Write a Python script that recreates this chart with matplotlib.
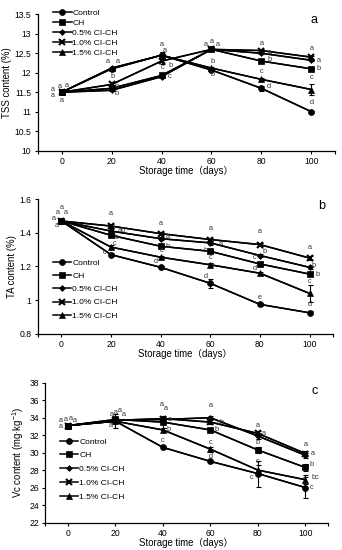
import numpy as np
import matplotlib
matplotlib.use("Agg")
import matplotlib.pyplot as plt

plt.rcParams['font.family'] = ['Liberation Sans', 'Noto Sans CJK SC']
plt.rcParams['mathtext.fontset'] = 'custom'
plt.rcParams['mathtext.rm'] = 'Liberation Sans'

days = [0, 20, 40, 60, 80, 100]
names = ["Control", "CH", "0.5% CI-CH", "1.0% CI-CH", "1.5% CI-CH"]

# TSS content (%)
tss_control = [11.5, 12.10, 12.45, 12.07, 11.60, 11.00]
tss_ch = [11.5, 11.60, 11.93, 12.60, 12.30, 12.10]
tss_05 = [11.5, 11.55, 11.90, 12.60, 12.50, 12.32]
tss_10 = [11.5, 11.70, 12.30, 12.60, 12.57, 12.40]
tss_15 = [11.5, 12.12, 12.45, 12.12, 11.83, 11.57]
tss_err_control = [0, 0.02, 0.03, 0.02, 0.07, 0.02]
tss_err_ch = [0, 0.02, 0.03, 0.03, 0.04, 0.02]
tss_err_05 = [0, 0.03, 0.03, 0.02, 0.03, 0.02]
tss_err_10 = [0, 0.05, 0.08, 0.02, 0.05, 0.04]
tss_err_15 = [0, 0.02, 0.08, 0.02, 0.04, 0.15]

# TA content (%)
ta_control = [1.47, 1.270, 1.195, 1.100, 0.975, 0.925]
ta_ch = [1.47, 1.385, 1.320, 1.290, 1.215, 1.155]
ta_05 = [1.47, 1.410, 1.365, 1.340, 1.265, 1.195]
ta_10 = [1.47, 1.440, 1.395, 1.360, 1.330, 1.250]
ta_15 = [1.47, 1.315, 1.255, 1.210, 1.160, 1.040]
ta_err_control = [0.01, 0.01, 0.01, 0.025, 0.008, 0.008]
ta_err_ch = [0.01, 0.01, 0.01, 0.01, 0.01, 0.01]
ta_err_05 = [0.01, 0.01, 0.01, 0.01, 0.01, 0.01]
ta_err_10 = [0.01, 0.01, 0.01, 0.01, 0.008, 0.01]
ta_err_15 = [0.01, 0.01, 0.01, 0.01, 0.01, 0.05]

# Vc content (mg/kg)
vc_control = [33.1, 33.6, 30.6, 29.0, 27.6, 26.0]
vc_ch = [33.1, 33.8, 33.5, 32.6, 30.3, 28.3]
vc_05 = [33.1, 33.7, 33.8, 34.0, 31.9, 29.7]
vc_10 = [33.1, 33.7, 33.9, 33.5, 32.2, 29.9]
vc_15 = [33.1, 33.6, 32.6, 30.4, 28.0, 26.9]
vc_err_control = [0.1, 0.8, 0.2, 0.2, 1.5, 1.2]
vc_err_ch = [0.1, 0.2, 0.7, 0.2, 0.3, 0.4]
vc_err_05 = [0.1, 0.2, 0.2, 0.2, 0.3, 0.3]
vc_err_10 = [0.1, 0.2, 0.2, 0.2, 0.3, 0.3]
vc_err_15 = [0.1, 0.2, 0.2, 0.3, 0.6, 0.5]

# significance letters: (series, day index, letter, dx px, dy px)
tss_letters = [
    (0, 0, "a", -9, 3), (1, 0, "a", -9, -3), (2, 0, "a", -2, 6), (3, 0, "a", 5, 7), (4, 0, "a", 0, -8),
    (0, 1, "a", -4, 7), (4, 1, "a", 6, 7), (3, 1, "b", 1, 8), (2, 1, "b", 5, -3), (1, 1, "b", 5, 2),
    (0, 2, "a", 0, 11), (4, 2, "a", 3, 5), (3, 2, "b", 9, -4), (1, 2, "c", 8, -1), (2, 2, "c", 1, 9),
    (1, 3, "a", -6, 5), (2, 3, "a", 0, 8), (3, 3, "a", 6, 5), (4, 3, "b", 1, 7), (0, 3, "b", 1, -4),
    (3, 4, "a", 0, 7), (2, 4, "a", 8, 1), (1, 4, "b", 8, 2), (4, 4, "c", 0, 8), (0, 4, "d", 7, 2),
    (3, 5, "a", 0, 9), (2, 5, "a", 7, 0), (1, 5, "b", 7, 0), (4, 5, "c", 0, 12), (0, 5, "d", 0, 9),
]
ta_letters = [
    (0, 0, "a", 0, 13), (1, 0, "a", -4, 8), (2, 0, "a", 4, 8), (3, 0, "a", -8, 2), (4, 0, "a", -5, -5),
    (3, 1, "a", 0, 13), (2, 1, "ab", 11, 1), (1, 1, "b", 6, -2), (4, 1, "c", 4, 4), (0, 1, "c", -6, 2),
    (3, 2, "a", 0, 10), (2, 2, "a", 7, 2), (1, 2, "b", 7, 0), (4, 2, "c", 1, 7), (0, 2, "d", -5, 6),
    (3, 3, "a", 0, 11), (2, 3, "a", 10, -1), (1, 3, "b", -5, 1), (4, 3, "c", 0, 7), (0, 3, "d", -5, 7),
    (3, 4, "a", 0, 13), (2, 4, "b", 5, 4), (1, 4, "c", -5, 6), (4, 4, "d", -5, 5), (0, 4, "e", 0, 7),
    (3, 5, "a", 0, 11), (2, 5, "b", 4, 2), (1, 5, "b", 8, 0), (4, 5, "c", 0, 12), (0, 5, "d", 0, 8),
]
vc_letters = [
    (0, 0, "a", -7, 5), (1, 0, "a", -2, 6), (2, 0, "a", 3, 7), (3, 0, "a", 7, 5), (4, 0, "a", -7, -1),
    (0, 1, "a", -5, -4), (1, 1, "a", -4, 5), (2, 1, "a", 0, 8), (3, 1, "a", 4, 10), (4, 1, "a", 8, 7),
    (3, 2, "a", -1, 14), (2, 2, "a", 3, 11), (1, 2, "a", 7, 3), (4, 2, "b", 6, 0), (0, 2, "c", 0, 7),
    (2, 3, "a", 0, 12), (3, 3, "ab", 10, 0), (1, 3, "b", 6, 0), (4, 3, "c", 0, 7), (0, 3, "d", 0, 5),
    (3, 4, "a", 0, 8), (2, 4, "a", 6, 3), (1, 4, "b", 0, 8), (4, 4, "c", 0, 9), (0, 4, "c", -6, -4),
    (3, 5, "a", 0, 9), (2, 5, "a", 7, 2), (1, 5, "b", 6, 3), (4, 5, "bc", 10, 2), (0, 5, "c", 6, 0),
]

markers = ["o", "s", "D", "x", "^"]
msizes = [4.3, 4.3, 3.0, 4.5, 4.6]


def draw_panel(ax, series, errs, letters, ylim, yticks, yticklabels, ylabel, tag, tagpos):
    handles = []
    for i, (vals, err) in enumerate(zip(series, errs)):
        ax.errorbar(days, vals, yerr=err, color="black", lw=1.1, elinewidth=0.8,
                    capsize=1.8, capthick=0.8, zorder=3)
        h, = ax.plot(days, vals, color="black", lw=1.1, marker=markers[i],
                     ms=msizes[i], mew=1.5 if markers[i] == "x" else 0.5,
                     mfc="black", mec="black", label=names[i], zorder=4)
        handles.append(h)
    for s, d, txt, dx, dy in letters:
        ax.annotate(txt, (days[d], series[s][d]), xytext=(dx, dy),
                    textcoords="offset pixels", ha="center", va="center",
                    fontsize=5.3, color="#333333", zorder=5)
    ax.set_xlim(-9.6, 109.5)
    ax.set_ylim(*ylim)
    ax.set_xticks(days)
    ax.set_xticks([-9.6, 109.5], minor=True)
    ax.set_yticks(yticks)
    ax.set_yticklabels(yticklabels)
    ax.tick_params(axis="both", which="both", direction="out", length=2.5,
                   width=0.8, labelsize=6.2, pad=2)
    ax.tick_params(axis="x", which="minor", length=2.5)
    for sp in ["top", "right"]:
        ax.spines[sp].set_visible(False)
    for sp in ["left", "bottom"]:
        ax.spines[sp].set_linewidth(0.9)
    ax.set_xlabel("Storage time（days）", fontsize=6.9, labelpad=0)
    ax.set_ylabel(ylabel, fontsize=6.9, labelpad=2)
    ax.text(tagpos[0], tagpos[1], tag, transform=ax.transAxes, fontsize=9,
            ha="center", va="center")
    return handles


fig = plt.figure(figsize=(3.42, 5.5), dpi=100)

ax_a = fig.add_axes([0.110, 0.726, 0.870, 0.248])
h = draw_panel(ax_a, [tss_control, tss_ch, tss_05, tss_10, tss_15],
               [tss_err_control, tss_err_ch, tss_err_05, tss_err_10, tss_err_15],
               tss_letters, (10, 13.5), [10, 10.5, 11, 11.5, 12, 12.5, 13, 13.5],
               ["10", "10.5", "11", "11.5", "12", "12.5", "13", "13.5"],
               "TSS content (%)", "a", (0.93, 0.96))
ax_a.legend(handles=h, loc="upper left", bbox_to_anchor=(0.04, 1.06), frameon=False,
            fontsize=6.1, handlelength=2.2, handletextpad=0.1, labelspacing=0.22,
            borderaxespad=0)

ax_b = fig.add_axes([0.110, 0.393, 0.864, 0.245])
h = draw_panel(ax_b, [ta_control, ta_ch, ta_05, ta_10, ta_15],
               [ta_err_control, ta_err_ch, ta_err_05, ta_err_10, ta_err_15],
               ta_letters, (0.8, 1.6), [0.8, 1.0, 1.2, 1.4, 1.6],
               ["0.8", "1", "1.2", "1.4", "1.6"],
               "TA content (%)", "b", (0.962, 0.95))
ax_b.legend(handles=h, loc="lower left", bbox_to_anchor=(0.04, 0.08), frameon=False,
            fontsize=6.1, handlelength=2.2, handletextpad=0.1, labelspacing=0.62,
            borderaxespad=0)

ax_c = fig.add_axes([0.132, 0.050, 0.827, 0.254])
h = draw_panel(ax_c, [vc_control, vc_ch, vc_05, vc_10, vc_15],
               [vc_err_control, vc_err_ch, vc_err_05, vc_err_10, vc_err_15],
               vc_letters, (22, 38), [22, 24, 26, 28, 30, 32, 34, 36, 38],
               ["22", "24", "26", "28", "30", "32", "34", "36", "38"],
               r"Vc content (mg·kg$^{-1}$)", "c", (0.954, 0.94))
ax_c.legend(handles=h, loc="lower left", bbox_to_anchor=(0.04, 0.13), frameon=False,
            fontsize=6.1, handlelength=2.2, handletextpad=0.1, labelspacing=0.7,
            borderaxespad=0)

fig.savefig("out.png", dpi=100)
